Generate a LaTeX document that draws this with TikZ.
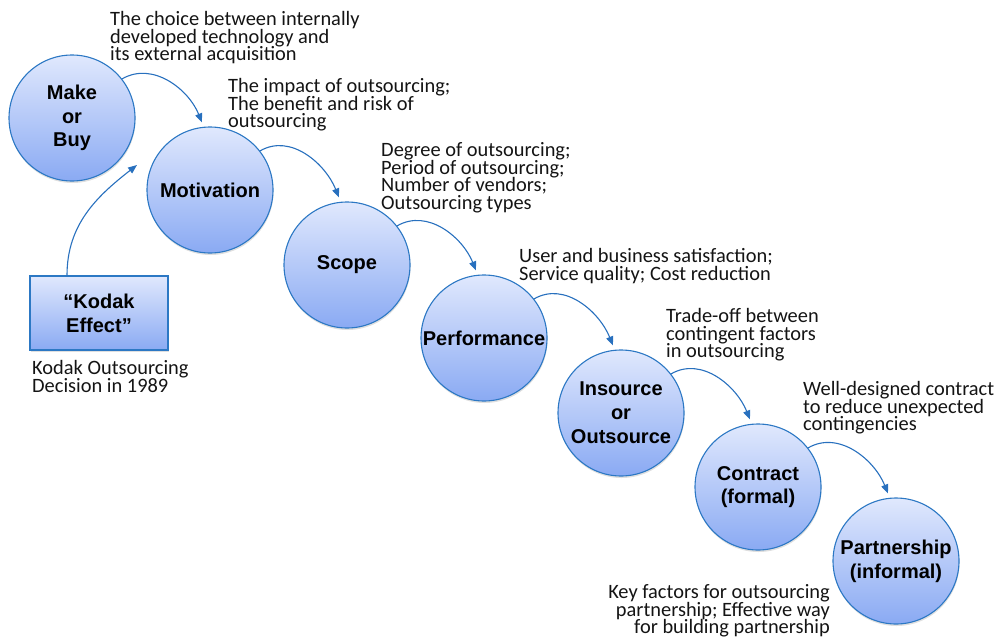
\documentclass[tikz,border=0pt]{standalone}
\usepackage{fontspec}
\setmainfont{Carlito}
\newfontfamily\boldsans{Liberation Sans}
\usetikzlibrary{arrows.meta,calc,shadows}
\definecolor{ctop}{RGB}{224,232,253}
\definecolor{cbot}{RGB}{138,170,243}
\definecolor{cborder}{RGB}{44,120,196}
\definecolor{arrowblue}{RGB}{40,112,190}
\definecolor{txt}{RGB}{20,20,20}
\begin{document}
\begin{tikzpicture}[x=1pt,y=1pt,
  stage/.style={circle,draw=cborder,line width=1.1pt,minimum size=126pt,inner sep=0pt,
    top color=ctop,bottom color=cbot,
    drop shadow={opacity=0.25,shadow xshift=0.5pt,shadow yshift=-2pt},
    font=\boldsans\bfseries\fontsize{20}{23.8}\selectfont,align=center,text=black},
  kbox/.style={rectangle,draw=cborder,line width=1.1pt,minimum width=138pt,minimum height=74pt,inner sep=0pt,
    top color=ctop,bottom color=cbot,
    drop shadow={opacity=0.25,shadow xshift=0.5pt,shadow yshift=-2pt},
    font=\boldsans\bfseries\fontsize{20}{23.8}\selectfont,align=center,text=black},
  note/.style={font=\fontsize{20.4}{17.8}\selectfont,align=left,inner sep=0pt,anchor=north west,text=txt},
  arr/.style={draw=arrowblue,line width=1.1pt,-{Triangle[length=9pt,width=7pt]}}]
\useasboundingbox (0,0) rectangle (998,-637);

\node[stage] (make) at (72,-118) {Make\\or\\Buy};
\node[stage] (motiv) at (210,-190) {Motivation};
\node[stage] (scope) at (347,-265) {Scope};
\node[stage] (perf) at (484,-338) {Performance};
\node[stage] (insrc) at (621,-413) {Insource\\or\\Outsource};
\node[stage] (contr) at (758,-487) {Contract\\(formal)};
\node[stage] (partn) at (896,-561) {Partnership\\(informal)};

\node[kbox] (kodak) at (99,-313) {“Kodak\\Effect”};

\node[note] (n1) at (110,-11) {The choice between internally\\developed technology and\\its external acquisition};
\node[note] (n2) at (228,-78) {The impact of outsourcing;\\The benefit and risk of\\outsourcing};
\node[note] (n3) at (381,-142) {Degree of outsourcing;\\Period of outsourcing;\\Number of vendors;\\Outsourcing types};
\node[note] (n4) at (519,-248) {User and business satisfaction;\\Service quality; Cost reduction};
\node[note] (n5) at (666,-308) {Trade-off between\\contingent factors\\in outsourcing};
\node[note] (n6) at (803,-381) {Well-designed contract\\to reduce unexpected\\contingencies};
\node[note,anchor=north east,align=right] (n7) at (830,-584) {Key factors for outsourcing\\partnership; Effective way\\for building partnership};
\node[note] (n8) at (32,-360) {Kodak Outsourcing\\Decision in 1989};

\draw[arr] (make.38) to[out=30,in=112] ($(motiv.north)+(-8,4)$);
\draw[arr] (motiv.38) to[out=30,in=112] ($(scope.north)+(-8,4)$);
\draw[arr] (scope.38) to[out=30,in=112] ($(perf.north)+(-8,4)$);
\draw[arr] (perf.38) to[out=30,in=112] ($(insrc.north)+(-8,4)$);
\draw[arr] (insrc.38) to[out=30,in=112] ($(contr.north)+(-8,4)$);
\draw[arr] (contr.38) to[out=30,in=112] ($(partn.north)+(-8,4)$);
\coordinate (kend) at (137,-165);
\draw[arr] ($(kodak.north)+(-32,0)$) to[out=90,in=218] (kend);
\end{tikzpicture}
\end{document}
